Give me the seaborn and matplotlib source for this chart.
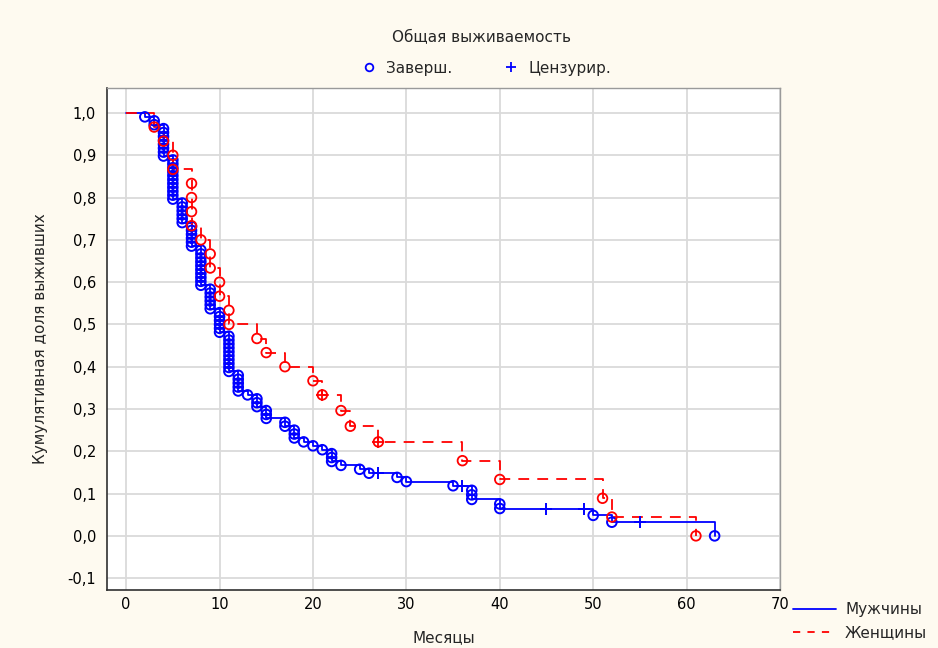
import matplotlib
matplotlib.use("Agg")
import matplotlib.pyplot as plt
from matplotlib.lines import Line2D
import pandas as pd
import seaborn as sns

# ---- Survival data (months) -------------------------------------------
men_n = 108
men_event_months = [2, 3, 4, 5, 6, 7, 8, 9, 10, 11, 12, 13, 14, 15, 17, 18,
                    19, 20, 21, 22, 23, 25, 26, 29, 30, 35, 37, 40, 50, 52, 63]
men_event_counts = [1, 2, 8, 11, 6, 6, 10, 6, 6, 10, 5, 1, 3, 3, 2, 3,
                    1, 1, 1, 3, 1, 1, 1, 1, 1, 1, 3, 2, 1, 1, 1]
men_censored_months = [27, 36, 45, 49, 55]

women_n = 30
women_event_months = [3, 4, 5, 7, 8, 9, 10, 11, 14, 15, 17, 20, 21, 23, 24,
                      27, 36, 40, 51, 52, 61]
women_event_counts = [1, 1, 2, 4, 1, 2, 2, 2, 1, 1, 1, 1, 1, 1, 1,
                      1, 1, 1, 1, 1, 1]
women_censored_months = [21, 27]

group_labels = ["Мужчины", "Женщины"]
x_ticks = [0, 10, 20, 30, 40, 50, 60, 70]
y_ticks = [-0.1, 0.0, 0.1, 0.2, 0.3, 0.4, 0.5, 0.6, 0.7, 0.8, 0.9, 1.0]
y_tick_labels = ["-0,1", "0,0", "0,1", "0,2", "0,3", "0,4", "0,5",
                 "0,6", "0,7", "0,8", "0,9", "1,0"]


def kaplan_meier(n, event_months, event_counts, censored_months):
    """Product-limit estimate: step curve, one point per completed
    observation and one point per censored observation."""
    deaths_at = dict(zip(event_months, event_counts))
    at_risk = n
    surv = 1.0
    steps = [(0.0, 1.0)]
    complete, censored = [], []
    for t in sorted(set(event_months) | set(censored_months)):
        d = deaths_at.get(t, 0)
        for _ in range(d):
            surv *= (at_risk - 1) / at_risk
            at_risk -= 1
            complete.append((t, surv))
        if d:
            steps.append((t, surv))
        for _ in range(censored_months.count(t)):
            censored.append((t, surv))
            at_risk -= 1
    cols = ["t", "s"]
    return (pd.DataFrame(steps, columns=cols),
            pd.DataFrame(complete, columns=cols),
            pd.DataFrame(censored, columns=cols))


men_steps, men_complete, men_cens = kaplan_meier(
    men_n, men_event_months, men_event_counts, men_censored_months)
women_steps, women_complete, women_cens = kaplan_meier(
    women_n, women_event_months, women_event_counts, women_censored_months)

# ---- Figure -------------------------------------------------------------
sns.set_style("whitegrid")
plt.rcParams["font.family"] = ["DejaVu Sans"]

BLUE = "#0000FF"
RED = "#FF0000"
BG = "#FEFAF0"

fig = plt.figure(figsize=(9.38, 6.48), dpi=100, facecolor=BG)
ax = fig.add_axes([107 / 938, 1 - 590 / 648, 673 / 938, 502 / 648])
ax.set_facecolor("white")

dash = (0, (6, 4.5))

# men
sns.lineplot(data=men_steps, x="t", y="s", drawstyle="steps-post",
             estimator=None, sort=False, color=BLUE, linewidth=1.3, ax=ax)
sns.scatterplot(data=men_complete, x="t", y="s", marker="o", s=48,
                facecolor="none", edgecolor=BLUE, linewidth=1.4, ax=ax,
                zorder=3)
sns.scatterplot(data=men_cens, x="t", y="s", marker="+", s=70,
                color=BLUE, linewidth=1.4, ax=ax, zorder=3)

# women
sns.lineplot(data=women_steps, x="t", y="s", drawstyle="steps-post",
             estimator=None, sort=False, color=RED, linewidth=1.3,
             linestyle=dash, ax=ax)
sns.scatterplot(data=women_complete, x="t", y="s", marker="o", s=48,
                facecolor="none", edgecolor=RED, linewidth=1.3, ax=ax,
                zorder=4)
sns.scatterplot(data=women_cens, x="t", y="s", marker="+", s=70,
                color=RED, linewidth=1.3, ax=ax, zorder=4)

# axes
ax.set_xlim(-2.05, 70)
ax.set_ylim(-0.128, 1.059)
ax.set_xticks(x_ticks)
ax.set_xticklabels([str(v) for v in x_ticks])
ax.set_yticks(y_ticks)
ax.set_yticklabels(y_tick_labels)
ax.grid(True, color="#DADADA", linewidth=1.3)
ax.tick_params(axis="both", labelsize=10.5, labelcolor="black", length=4,
               width=1, direction="out", color="#404040")
ax.tick_params(axis="x", pad=1)
ax.tick_params(axis="y", pad=4)
for side in ["top", "right"]:
    ax.spines[side].set_color("#9A9A9A")
    ax.spines[side].set_linewidth(1.0)
for side in ["left", "bottom"]:
    ax.spines[side].set_color("#303030")
    ax.spines[side].set_linewidth(1.2)

ax.set_xlabel("Месяцы", fontsize=11, labelpad=13)
ax.set_ylabel("Кумулятивная доля выживших", fontsize=11, labelpad=14)

# title and marker legend above the plot
fig.text(481 / 938, 1 - 38 / 648, "Общая выживаемость", ha="center",
         va="center", fontsize=11)
marker_handles = [
    Line2D([], [], linestyle="none", marker="o", markersize=5.5,
           markerfacecolor="none", markeredgecolor=BLUE, markeredgewidth=1.3),
    Line2D([], [], linestyle="none", marker="+", markersize=7,
           color=BLUE, markeredgewidth=1.3),
]
fig.legend(marker_handles, ["Заверш.", "Цензурир."], ncol=2,
           loc="center", bbox_to_anchor=(486 / 938, 1 - 68 / 648),
           frameon=False, fontsize=11, handlelength=1.0, handletextpad=0.6,
           columnspacing=3.4)

# group legend at lower right
line_handles = [
    Line2D([], [], color=BLUE, linewidth=1.3),
    Line2D([], [], color=RED, linewidth=1.3, linestyle=(0, (4, 4))),
]
fig.legend(line_handles, group_labels, loc="upper left",
           bbox_to_anchor=(787 / 938, 1 - 596 / 648), frameon=False,
           fontsize=11, handlelength=2.8, handletextpad=0.6,
           labelspacing=0.55, borderaxespad=0)

fig.savefig("out.png", dpi=100, facecolor=BG)
